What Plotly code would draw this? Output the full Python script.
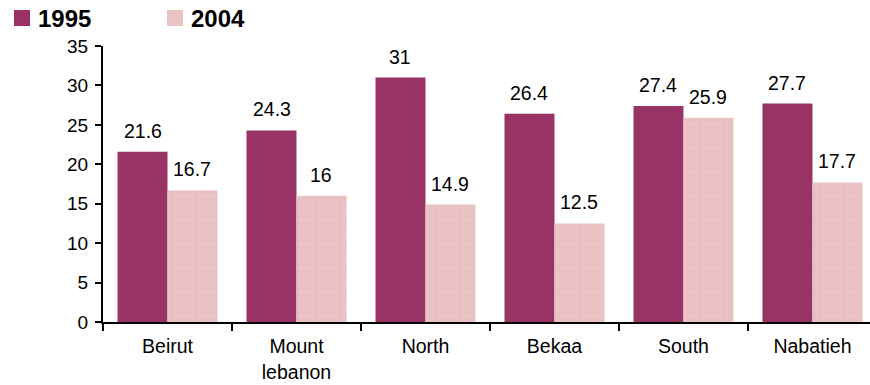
import plotly.graph_objects as go

regions = ["Beirut", "Mount<br>lebanon", "North", "Bekaa", "South", "Nabatieh"]
values_1995 = [21.6, 24.3, 31, 26.4, 27.4, 27.7]
values_2004 = [16.7, 16, 14.9, 12.5, 25.9, 17.7]
y_ticks = [0, 5, 10, 15, 20, 25, 30, 35]
series_names = ["1995", "2004"]

C1995 = "#993366"
C2004 = "#EBC3C5"
FONT = "Arial, Liberation Sans, sans-serif"

# plot area in pixels (used to place the hand-drawn legend)
L, R, T, B = 103, 870, 46, 322


def px_x(p):
    return (p - L) / (R - L)


def px_y(p):
    return (B - p) / (B - T)


fig = go.Figure()
fig.add_trace(go.Bar(name=series_names[0], x=regions, y=values_1995,
                     marker=dict(color=C1995, line=dict(width=0))))
fig.add_trace(go.Bar(name=series_names[1], x=regions, y=values_2004,
                     marker=dict(color=C2004, line=dict(width=0),
                                 pattern=dict(shape=".", fgcolor="#DDB0B4",
                                              fgopacity=0.35, size=6, solidity=0.3))))

bargap = 0.225
half = (1 - bargap) / 4  # centre offset of each bar within its group
for i in range(len(regions)):
    for val, off in ((values_1995[i], -half), (values_2004[i], half)):
        fig.add_annotation(x=i + off, y=val, xref="x", yref="y",
                           text=f"{val:g}", showarrow=False,
                           yshift=21, font=dict(size=19.5, color="#000000"))

# legend: coloured squares with bold labels above the plot
for (sq_left, txt_left), name, col in zip(((14, 36), (167, 189)), series_names, (C1995, C2004)):
    fig.add_shape(type="rect", xref="paper", yref="paper",
                  x0=px_x(sq_left), x1=px_x(sq_left + 16),
                  y0=px_y(26), y1=px_y(10),
                  fillcolor=col, line=dict(width=0))
    fig.add_annotation(xref="paper", yref="paper", x=px_x(txt_left), y=px_y(18),
                       xanchor="left", yanchor="middle", showarrow=False,
                       text=f"<b>{name}</b>", font=dict(size=24, color="#000000"))

fig.update_layout(
    width=870, height=385,
    margin=dict(l=L, r=870 - R, t=T, b=385 - B),
    plot_bgcolor="white", paper_bgcolor="white",
    barmode="group", bargap=bargap, bargroupgap=0,
    font=dict(family=FONT, color="#000000"),
    showlegend=False,
)
fig.update_xaxes(
    type="category", range=[-0.5, 5.446],
    showline=True, linecolor="#000000", linewidth=2,
    ticks="outside", tickson="boundaries", ticklen=7, tickwidth=2, tickcolor="#000000",
    tickfont=dict(size=19.5), ticklabelstandoff=6, showgrid=False, zeroline=False,
)
fig.update_yaxes(
    range=[0, 35], tickvals=y_ticks,
    showline=True, linecolor="#000000", linewidth=2,
    ticks="outside", ticklen=6, tickwidth=2, tickcolor="#000000",
    tickfont=dict(size=19), ticklabelstandoff=3, showgrid=False, zeroline=False,
)

fig.write_html("out.html")
